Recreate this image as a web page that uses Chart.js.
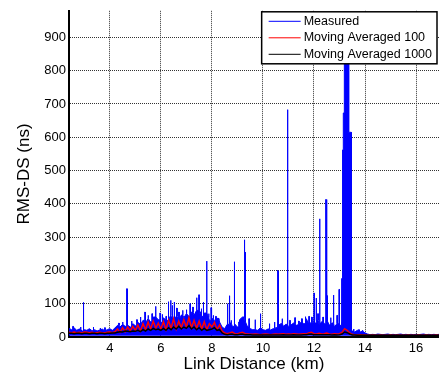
<!DOCTYPE html>
<html><head><meta charset="utf-8">
<script src="https://cdn.jsdelivr.net/npm/chart.js@4"></script>
<style>html,body{margin:0;padding:0;background:#fff}#wrap{width:439px;height:375px}</style>
</head><body><div id="wrap"><canvas id="c" width="439" height="375"></canvas></div>
<script>
// ---- data ----
const xTickKm = [4, 6, 8, 10, 12, 14, 16];
const yTickNs = [0, 100, 200, 300, 400, 500, 600, 700, 800, 900];
const seriesLabels = ['Measured', 'Moving Averaged 100', 'Moving Averaged 1000'];
const axisTitles = ['Link Distance (km)', 'RMS-DS (ns)'];

// sampling grid: 2.4 km .. 16.9 km every 0.1 km
const gridStartKm = 2.4, gridStepKm = 0.1;

// upper envelope of the measured band (ns) on the grid
const measuredEnvNs = [
  26,22,28,20,24,18,22,20,25,19,22,18,21,24,19,22,25,20,27, // 2.4-4.2
  35,30,38,32,36,30,40,34,                                   // 4.3-5.0
  45,38,50,42,55,45,60,48,52,44,                             // 5.1-6.0
  58,50,65,60,55,62,50,66,58,70,                             // 6.1-7.0
  62,75,65,80,70,62,72,58,50,55,                             // 7.1-8.0
  48,56,45,30,25,                                            // 8.1-8.5
  38,42,32,40,30,52,60,45,30,25,                             // 8.6-9.5
  22,25,20,28,22,20,24,21,25,28,                             // 9.6-10.5
  35,40,32,38,30,36,42,34,38,45,                             // 10.6-11.5
  40,55,38,45,42,50,38,46,40,48,                             // 11.6-12.5
  36,42,30,40,35,45,                                         // 12.6-13.1
  870,870,615,                                               // 13.2-13.4
  18,15,20,14,18,12,                                         // 13.5-14.0
  9,7,8,7,9,8,7,8,9,7,8,7,8,9,7,8,7,8,7,8,7,8,9,7,8,7,8,7,8  // 14.1-16.9
];
// tall isolated spikes of the measured series
const spikeKm = [2.96,4.66,5.37,5.79,5.96,6.20,6.29,6.38,6.44,6.52,6.62,6.85,7.14,7.40,7.49,7.66,7.79,7.96,
                 8.26,8.61,8.68,8.87,9.27,9.31,9.69,9.90,10.57,10.60,10.96,11.52,11.66,11.91,12.00,12.08,
                 12.22,12.46,12.51,12.76,12.98,13.08];
const spikeNs = [104,145,75,92,72,62,106,110,95,105,87,80,100,118,127,105,228,88,
                 52,100,124,226,292,255,52,70,201,198,683,55,61,60,132,117,
                 355,413,124,126,143,176];
// smaller spikes on top of the band
const minorKm = [2.55,2.85,3.35,3.62,3.8,4.35,4.5,4.85,5.05,5.2,5.5,5.65,6.05,6.7,7.0,7.25,7.58,7.87,8.05,8.15,
                 8.75,9.05,9.45,10.25,10.45,10.75,11.05,11.25,11.4,11.8,12.15,12.35,12.65,12.9,13.55,13.75,13.9];
const minorNs = [32,30,30,27,28,42,45,48,52,60,65,70,68,75,82,90,85,70,65,62,
                 50,45,55,40,45,55,50,58,48,62,70,60,58,65,24,22,20];
// the dense burst around 13.1-13.5 km
const burstKm = [13.12,13.12,13.15,13.15,13.18,13.18,13.36,13.36,13.46,13.47];
const burstNs = [45,562,562,673,673,780,870,615,615,18];

const ma100Ns = [
  14,13,15,13,14,12,15,14,13,14,12,13,14,13,12,14,15,13,16,
  24,14,28,16,30,18,32,20,
  36,18,40,22,45,24,48,26,42,24,
  46,22,50,26,55,24,48,28,52,30,
  58,28,50,26,48,24,46,22,40,30,
  44,22,36,18,12,
  10,12,15,10,9,12,14,10,9,8,
  8,9,8,7,8,9,8,7,8,9,
  8,9,10,8,9,8,10,9,8,9,
  10,9,12,14,10,9,11,9,10,12,
  9,8,10,9,10,14,
  25,20,12,
  8,7,6,7,6,6,
  5,5,6,5,5,6,5,5,5,6,5,5,6,5,5,5,6,5,5,5,6,5,5,6,5,5,5,6,5
];
const ma1000Ns = [
  11,11,10,11,11,10,11,11,10,11,11,10,11,11,10,11,11,12,12,
  14,16,15,18,17,16,18,17,
  20,16,22,18,24,20,26,22,24,20,
  26,20,28,22,30,24,32,24,30,26,
  34,24,30,22,28,20,26,20,22,24,
  28,20,22,12,8,
  7,8,8,7,7,8,8,7,7,7,
  6,6,6,6,6,6,6,6,6,6,
  6,6,7,6,6,6,7,6,6,6,
  7,7,8,8,7,7,7,7,7,7,
  7,6,7,6,7,9,
  15,13,9,
  6,6,5,5,5,5,
  5,5,5,5,5,5,5,5,5,5,5,5,5,5,5,5,5,5,5,5,5,5,5,5,5,5,5,5,5
];

// ---- build point lists ----
const gridKm = measuredEnvNs.map((_, i) => +(gridStartKm + i * gridStepKm).toFixed(2));
const SPIKE_W = 0.015;
function envAt(k) { return measuredEnvNs[Math.floor((k - gridStartKm) / gridStepKm + 1e-6)]; }
const measuredPts = gridKm.map((k, i) => ({x: k, y: measuredEnvNs[i], o: 0}));
function addSpikes(kms, vals) {
  kms.forEach((k, i) => {
    const b = envAt(k), p = vals[i];
    measuredPts.push({x: k, y: b, o: 1}, {x: k, y: p, o: 2}, {x: k + SPIKE_W, y: p, o: 3}, {x: k + SPIKE_W, y: b, o: 4});
  });
}
addSpikes(spikeKm, spikeNs);
addSpikes(minorKm, minorNs);
burstKm.forEach((k, i) => measuredPts.push({x: k, y: burstNs[i], o: 1 + i * 0.01}));
measuredPts.sort((a, b) => a.x - b.x || a.o - b.o);
const ma100Pts = gridKm.map((k, i) => ({x: k, y: ma100Ns[i]}));
const ma1000Pts = gridKm.map((k, i) => ({x: k, y: ma1000Ns[i]}));

const FONT = '"Liberation Sans", Arial, Helvetica, sans-serif';
Chart.defaults.font.family = FONT;

const titlesAndLegend = {
  id: 'titlesAndLegend',
  afterDraw(chart) {
    const ctx = chart.ctx, ca = chart.chartArea;
    ctx.save();
    // axis titles
    ctx.fillStyle = '#000';
    ctx.font = '17px ' + FONT;
    ctx.textAlign = 'center'; ctx.textBaseline = 'middle';
    ctx.fillText(axisTitles[0], (ca.left + ca.right) / 2, 364);
    ctx.save();
    ctx.translate(24, (ca.top + ca.bottom) / 2);
    ctx.rotate(-Math.PI / 2);
    ctx.fillText(axisTitles[1], 0, 0);
    ctx.restore();
    // legend
    const ds = chart.data.datasets.slice(0, 3);
    ctx.font = '12.5px ' + FONT;
    const tw = Math.max(...ds.map(d => ctx.measureText(d.label).width));
    const padL = 7, lineL = 32, gap = 3, padR = 5, rowH = 16.5, padT = 9;
    const w = padL + lineL + gap + tw + padR, h = padT * 2 + rowH * 2 + 1;
    const x0 = ca.right - 2 - w, y0 = ca.top + 1;
    ctx.fillStyle = '#fff';
    ctx.fillRect(x0, y0, w, h);
    ctx.strokeStyle = '#000'; ctx.lineWidth = 1.5;
    ctx.strokeRect(x0, y0, w, h);
    ds.forEach((d, i) => {
      const yy = y0 + padT + i * rowH + 0.5;
      ctx.strokeStyle = d.borderColor; ctx.lineWidth = 1;
      ctx.beginPath(); ctx.moveTo(x0 + padL, yy); ctx.lineTo(x0 + padL + lineL, yy); ctx.stroke();
      ctx.fillStyle = '#000'; ctx.textBaseline = 'middle'; ctx.textAlign = 'left';
      ctx.fillText(d.label, x0 + padL + lineL + gap, yy);
    });
    ctx.restore();
  }
};

new Chart(document.getElementById('c'), {
  type: 'line',
  data: {
    datasets: [
      {label: seriesLabels[0], data: measuredPts, borderColor: '#0000ff', backgroundColor: '#0000ff',
       borderWidth: 1, pointRadius: 0, tension: 0, fill: {value: 4}, order: 3},
      {label: seriesLabels[1], data: ma100Pts, borderColor: '#ff0000', borderWidth: 1.5,
       pointRadius: 0, tension: 0, fill: false, order: 2},
      {label: seriesLabels[2], data: ma1000Pts, borderColor: '#000000', borderWidth: 1.5,
       pointRadius: 0, tension: 0, fill: false, order: 1}
    ]
  },
  options: {
    responsive: false, animation: false, devicePixelRatio: 1,
    layout: {padding: {top: 9, left: 0, right: 0, bottom: 0}},
    plugins: {legend: {display: false}, tooltip: {enabled: false}},
    scales: {
      x: {
        type: 'linear', min: 2.4, max: 16.9, offset: false,
        afterBuildTicks: s => { s.ticks = xTickKm.map(v => ({value: v})); },
        afterFit: s => { s.height = 38; },
        grid: {color: '#333', lineWidth: 1, drawTicks: false},
        border: {display: true, color: '#000', width: 2, dash: [1, 1]},
        ticks: {font: {family: FONT, size: 13}, color: '#000', padding: 4, maxRotation: 0, autoSkip: false},
        title: {display: false}
      },
      y: {
        type: 'linear', min: 0, max: 980,
        afterBuildTicks: s => { s.ticks = yTickNs.map(v => ({value: v})); },
        afterFit: s => { s.width = 69; },
        grid: {color: '#333', lineWidth: 1, drawTicks: false},
        border: {display: true, color: '#000', width: 2, dash: [1, 1]},
        ticks: {font: {family: FONT, size: 13}, color: '#000', padding: 3, autoSkip: false},
        title: {display: false}
      }
    }
  },
  plugins: [titlesAndLegend]
});
</script></body></html>
